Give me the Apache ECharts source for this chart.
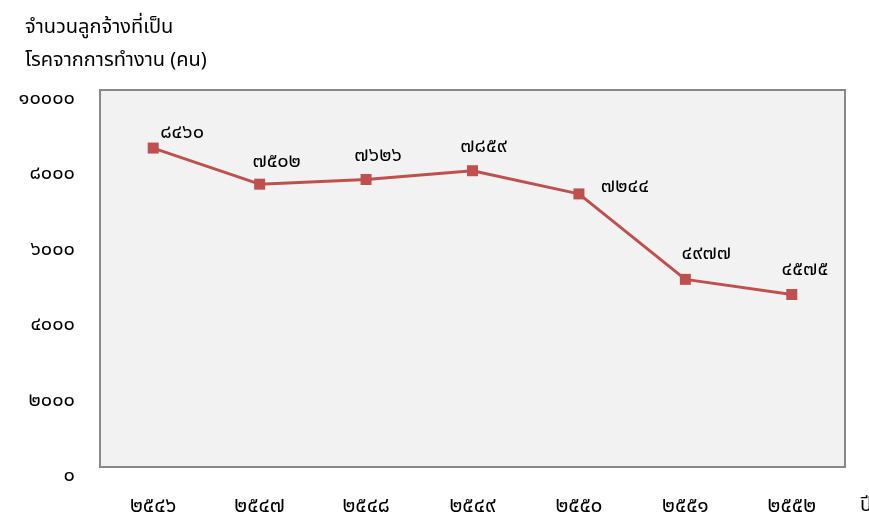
<!DOCTYPE html>
<html>
<head>
<meta charset="utf-8">
<script src="https://cdn.jsdelivr.net/npm/echarts@6/dist/echarts.min.js"></script>
<style>
  html, body { margin: 0; padding: 0; background: #fff; }
  #chart { width: 869px; height: 517px; }
</style>
</head>
<body>
<div id="chart"></div>
<script>
// years (Buddhist era) and number of employees with occupational illness
const years = [2546, 2547, 2548, 2549, 2550, 2551, 2552]
const patients = [8460, 7502, 7626, 7859, 7244, 4977, 4575]
const yTicks = [0, 2000, 4000, 6000, 8000, 10000]

// label nudges, x/y in px, one per point
const labelOffsets = [[29, -14], [17, -21], [12, -23], [11, -23], [46, -6], [21, -24], [13, -24]]

const thaiDigits = '๐๑๒๓๔๕๖๗๘๙'
function toThai(n) {
  return String(n).replace(/[0-9]/g, d => thaiDigits[+d])
}

const font = 'Tahoma, "Noto Sans Thai", "Noto Sans", sans-serif'

const chart = echarts.init(document.getElementById('chart'))

const seriesData = patients.map((v, i) => ({
  value: v,
  label: { offset: labelOffsets[i] }
}))

chart.setOption({
  backgroundColor: '#fff',
  animation: false,
  textStyle: { fontFamily: font },
  title: {
    text: 'จำนวนลูกจ้างที่เป็น\nโรคจากการทำงาน (คน)',
    left: 20,
    top: 7,
    textStyle: {
      fontFamily: font,
      fontWeight: 'normal',
      fontSize: 20,
      lineHeight: 33,
      color: '#000'
    }
  },
  grid: {
    left: 100,
    right: 24,
    top: 90,
    bottom: 50,
    outerBoundsMode: 'none',
    containLabel: false,
    show: true,
    backgroundColor: '#f2f2f2',
    borderColor: '#888',
    borderWidth: 2
  },
  xAxis: {
    type: 'category',
    data: years,
    boundaryGap: true,
    name: 'ปี',
    nameLocation: 'end',
    nameGap: 15,
    nameTextStyle: { fontFamily: font, fontSize: 20, color: '#000', verticalAlign: 'top', padding: [30, 0, 0, 0] },
    axisLine: { show: false },
    axisTick: { show: false },
    axisLabel: {
      margin: 30,
      fontFamily: font,
      fontSize: 21,
      color: '#000',
      formatter: v => toThai(v)
    }
  },
  yAxis: {
    type: 'value',
    min: 0,
    max: 10000,
    interval: 2000,
    axisLine: { show: false },
    axisTick: { show: false },
    splitLine: { show: false },
    axisLabel: {
      margin: 25,
      fontFamily: font,
      fontSize: 20,
      color: '#000',
      verticalAlign: 'top',
      formatter: v => yTicks.indexOf(v) >= 0 ? toThai(v) : ''
    }
  },
  series: [{
    type: 'line',
    data: seriesData,
    symbol: 'rect',
    symbolSize: 11,
    itemStyle: { color: '#c0504d' },
    lineStyle: { color: '#c0504d', width: 3 },
    label: {
      show: true,
      position: 'inside',
      fontFamily: font,
      fontSize: 20,
      color: '#000',
      formatter: p => toThai(p.value)
    }
  }]
})
</script>
</body>
</html>
